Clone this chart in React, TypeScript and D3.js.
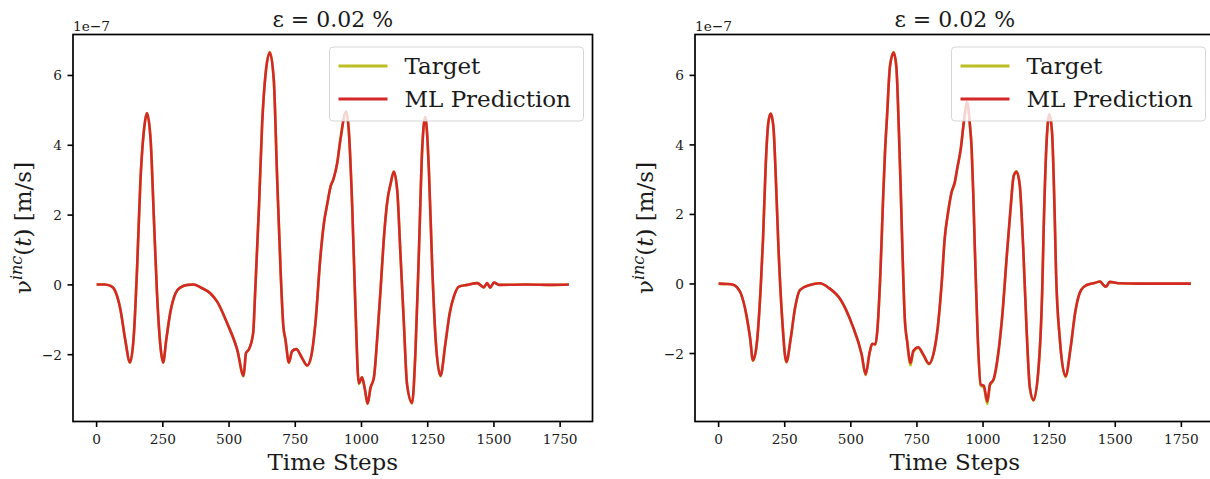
import React from 'react';
import * as d3 from 'd3';

const xTicks = [0, 250, 500, 750, 1000, 1250, 1500, 1750];
const yTicks = [-2, 0, 2, 4, 6];
const titleText = 'ε = 0.02 %';
const legendLabels = ['Target', 'ML Prediction'];

const leftSteps = [0, 30, 53, 71, 90, 108, 126, 141, 153, 165, 180, 190, 204, 216, 228, 241, 251, 263, 278, 298, 317, 344, 367, 392, 429, 455, 493, 531, 555, 564, 574, 591, 599, 613, 625, 638, 654, 669, 681, 695, 705, 713, 726, 738, 754, 776, 795, 810, 826, 845, 858, 871, 883, 895, 908, 920, 942, 952, 965, 977, 990, 1002, 1013, 1023, 1034, 1047, 1059, 1072, 1084, 1098, 1110, 1122, 1135, 1147, 1160, 1172, 1191, 1204, 1217, 1229, 1241, 1254, 1267, 1280, 1298, 1317, 1333, 1349, 1368, 1399, 1437, 1462, 1474, 1486, 1500, 1519, 1620, 1721, 1783];
const leftTarget = [0.01, 0.01, -0.03, -0.19, -0.71, -1.57, -2.23, -1.38, 0.52, 2.91, 4.52, 4.92, 4.14, 1.95, -0.24, -1.76, -2.23, -1.57, -0.8, -0.24, -0.07, 0.0, 0.01, -0.07, -0.24, -0.48, -1.1, -1.86, -2.62, -1.95, -1.86, -1.38, -0.14, 2.24, 4.62, 6.05, 6.67, 5.86, 3.19, 0.33, -1.19, -1.57, -2.24, -1.9, -1.84, -2.1, -2.31, -2.05, -1.1, 0.81, 1.76, 2.33, 2.81, 3.05, 3.48, 4.14, 4.97, 4.43, 2.24, -0.62, -2.84, -2.65, -3.0, -3.41, -2.95, -2.65, -1.57, -0.14, 1.29, 2.43, 2.9, 3.25, 2.7, 0.9, -1.1, -2.85, -3.4, -1.86, 1.0, 3.86, 4.81, 3.38, 0.52, -1.57, -2.62, -1.67, -0.81, -0.33, -0.05, 0.0, 0.05, -0.07, 0.05, -0.08, 0.07, 0.0, 0.01, 0.0, 0.01];
const leftPrediction = [0.01, 0.01, -0.03, -0.19, -0.71, -1.57, -2.22, -1.38, 0.52, 2.91, 4.52, 4.92, 4.14, 1.95, -0.24, -1.76, -2.22, -1.57, -0.8, -0.24, -0.07, 0.0, 0.01, -0.07, -0.24, -0.48, -1.1, -1.86, -2.6, -1.95, -1.86, -1.38, -0.14, 2.24, 4.62, 6.05, 6.66, 5.86, 3.19, 0.33, -1.19, -1.57, -2.22, -1.9, -1.84, -2.1, -2.31, -2.05, -1.1, 0.81, 1.76, 2.33, 2.81, 3.05, 3.48, 4.14, 4.97, 4.43, 2.24, -0.62, -2.82, -2.65, -3.0, -3.4, -2.95, -2.65, -1.57, -0.14, 1.29, 2.43, 2.9, 3.24, 2.7, 0.9, -1.1, -2.85, -3.38, -1.86, 1.0, 3.86, 4.81, 3.38, 0.52, -1.57, -2.6, -1.67, -0.81, -0.33, -0.05, 0.0, 0.05, -0.07, 0.05, -0.08, 0.07, 0.0, 0.01, 0.0, 0.01];

const rightSteps = [0, 30, 55, 70, 84, 105, 119, 130, 144, 159, 168, 178, 188, 197, 207, 217, 226, 241, 256, 273, 289, 308, 345, 382, 418, 462, 505, 541, 556, 571, 581, 593, 600, 612, 622, 629, 637, 648, 662, 672, 682, 688, 695, 704, 713, 726, 736, 755, 774, 796, 812, 827, 844, 855, 868, 881, 893, 902, 916, 928, 940, 950, 957, 963, 969, 979, 991, 1003, 1016, 1026, 1040, 1057, 1073, 1089, 1104, 1116, 1127, 1139, 1152, 1165, 1177, 1191, 1211, 1224, 1229, 1239, 1251, 1261, 1271, 1276, 1290, 1312, 1331, 1349, 1371, 1392, 1422, 1443, 1454, 1465, 1479, 1512, 1592, 1691, 1786];
const rightTarget = [0.01, 0.0, -0.02, -0.1, -0.27, -0.89, -1.55, -2.21, -1.74, -0.12, 1.3, 3.4, 4.64, 4.9, 4.54, 2.92, 1.1, -1.07, -2.26, -1.55, -0.69, -0.17, -0.03, 0.02, -0.12, -0.46, -1.17, -2.03, -2.62, -1.98, -1.72, -1.74, -1.36, 0.35, 2.45, 3.75, 4.83, 6.26, 6.67, 6.26, 4.35, 2.9, 1.02, -0.98, -1.65, -2.34, -1.97, -1.84, -2.05, -2.31, -2.03, -1.36, 0.07, 1.31, 2.07, 2.64, 2.88, 3.3, 3.9, 4.7, 5.22, 4.6, 3.88, 2.6, 1.02, -1.36, -2.92, -2.98, -3.45, -2.92, -2.76, -2.03, -0.89, 0.73, 2.16, 3.11, 3.24, 2.83, 1.02, -1.36, -2.98, -3.36, -2.31, -0.12, 1.5, 3.88, 4.88, 4.35, 1.97, 0.35, -1.55, -2.68, -1.84, -0.79, -0.17, -0.03, 0.03, 0.07, -0.02, -0.08, 0.06, 0.02, 0.01, 0.01, 0.01];
const rightPrediction = [0.01, 0.0, -0.02, -0.1, -0.27, -0.89, -1.55, -2.2, -1.74, -0.12, 1.3, 3.4, 4.64, 4.9, 4.54, 2.92, 1.1, -1.07, -2.24, -1.55, -0.69, -0.17, -0.03, 0.02, -0.12, -0.46, -1.17, -2.03, -2.6, -1.98, -1.72, -1.74, -1.36, 0.35, 2.45, 3.75, 4.83, 6.26, 6.66, 6.26, 4.35, 2.9, 1.02, -0.98, -1.65, -2.27, -1.93, -1.82, -2.03, -2.29, -2.03, -1.36, 0.07, 1.31, 2.07, 2.64, 2.93, 3.31, 3.9, 4.7, 5.23, 4.6, 3.88, 2.6, 1.02, -1.36, -2.89, -2.93, -3.38, -2.89, -2.74, -2.03, -0.89, 0.73, 2.16, 3.11, 3.23, 2.83, 1.02, -1.36, -2.98, -3.34, -2.31, -0.12, 1.5, 3.88, 4.88, 4.35, 1.97, 0.35, -1.55, -2.65, -1.84, -0.79, -0.17, -0.03, 0.03, 0.07, -0.02, -0.08, 0.06, 0.02, 0.01, 0.01, 0.01];

const TOP = 34.5;
const BOTTOM = 421.5;
const AXW = 519.5;
const FONT = '"DejaVu Serif", "Liberation Serif", serif';
const TARGET_COLOR = '#bcbd22';
const PRED_COLOR = '#d62728';
const INK = '#1a1a1a';

function fmtTick(v: number) {
  return v < 0 ? '\u2212' + Math.abs(v) : String(v);
}

function Panel({ x0, steps, target, pred }: { x0: number; steps: number[]; target: number[]; pred: number[] }) {
  const n = steps[steps.length - 1];
  const x = d3.scaleLinear().domain([-0.05 * n, 1.05 * n]).range([x0, x0 + AXW]);
  const all = target.concat(pred);
  const lo = d3.min(all) as number;
  const hi = d3.max(all) as number;
  const pad = 0.05 * (hi - lo);
  const y = d3.scaleLinear().domain([lo - pad, hi + pad]).range([BOTTOM, TOP]);
  const line = d3
    .line<number>()
    .x((_, i) => x(steps[i]))
    .y((d) => y(d))
    .curve(d3.curveMonotoneX);
  const xr = x0 + AXW;
  const legW = 254;
  const legX = xr - 9 - legW;
  const legY = 47;
  return (
    <g>
      <defs>
        <clipPath id={'clip' + x0}>
          <rect x={x0} y={TOP} width={AXW} height={BOTTOM - TOP} />
        </clipPath>
      </defs>
      <g clipPath={`url(#clip${x0})`}>
        <path d={line(target) || ''} fill="none" stroke={TARGET_COLOR} strokeWidth={2.6} strokeLinejoin="round" />
        <path d={line(pred) || ''} fill="none" stroke={PRED_COLOR} strokeWidth={2.6} strokeLinejoin="round" />
      </g>
      <rect x={legX} y={legY} width={legW} height={74} rx={3.5} fill="#ffffff" fillOpacity={0.8} stroke="#cccccc" strokeOpacity={0.8} strokeWidth={1} />
      {legendLabels.map((lab, i) => (
        <g key={lab}>
          <line x1={legX + 9} x2={legX + 58} y1={legY + 19 + i * 33} y2={legY + 19 + i * 33} stroke={i === 0 ? TARGET_COLOR : PRED_COLOR} strokeWidth={2.8} />
          <text x={legX + 75} y={legY + 19 + i * 33 + 8} fontFamily={FONT} fontSize={23} fill={INK}>{lab}</text>
        </g>
      ))}
      <rect x={x0} y={TOP} width={AXW} height={BOTTOM - TOP} fill="none" stroke="#000" strokeWidth={1.7} />
      {xTicks.map((t) => (
        <g key={'x' + t}>
          <line x1={x(t)} x2={x(t)} y1={BOTTOM} y2={BOTTOM + 5.5} stroke="#000" strokeWidth={1.6} />
          <text x={x(t)} y={444} textAnchor="middle" fontFamily={FONT} fontSize={13.7} fill={INK}>{t}</text>
        </g>
      ))}
      {yTicks.map((t) => (
        <g key={'y' + t}>
          <line x1={x0 - 5.5} x2={x0} y1={y(t)} y2={y(t)} stroke="#000" strokeWidth={1.6} />
          <text x={x0 - 11} y={y(t) + 5} textAnchor="end" fontFamily={FONT} fontSize={13.7} fill={INK}>{fmtTick(t)}</text>
        </g>
      ))}
      <text x={x0} y={30.5} fontFamily={FONT} fontSize={13.7} fill={INK}>1e{'\u2212'}7</text>
      <text x={x0 + AXW / 2} y={26.5} textAnchor="middle" fontFamily={FONT} fontSize={22} fill={INK}>{titleText}</text>
      <text x={x0 + AXW / 2} y={470} textAnchor="middle" fontFamily={FONT} fontSize={23} fill={INK}>Time Steps</text>
      <text transform={`translate(${x0 - 42},${(TOP + BOTTOM) / 2}) rotate(-90)`} textAnchor="middle" fontFamily={FONT} fontSize={23} fill={INK}>
        <tspan>ν</tspan>
        <tspan fontStyle="italic" fontSize={16} dy={-9}>inc</tspan>
        <tspan dy={9}>(</tspan>
        <tspan fontStyle="italic">t</tspan>
        <tspan>) [m/s]</tspan>
      </text>
    </g>
  );
}

export default function App() {
  return (
    <svg width={1210} height={479} style={{ position: 'absolute', left: 0, top: 0, background: '#fff' }}>
      <rect x={0} y={0} width={1210} height={479} fill="#fff" />
      <Panel x0={73} steps={leftSteps} target={leftTarget} pred={leftPrediction} />
      <Panel x0={695} steps={rightSteps} target={rightTarget} pred={rightPrediction} />
    </svg>
  );
}
